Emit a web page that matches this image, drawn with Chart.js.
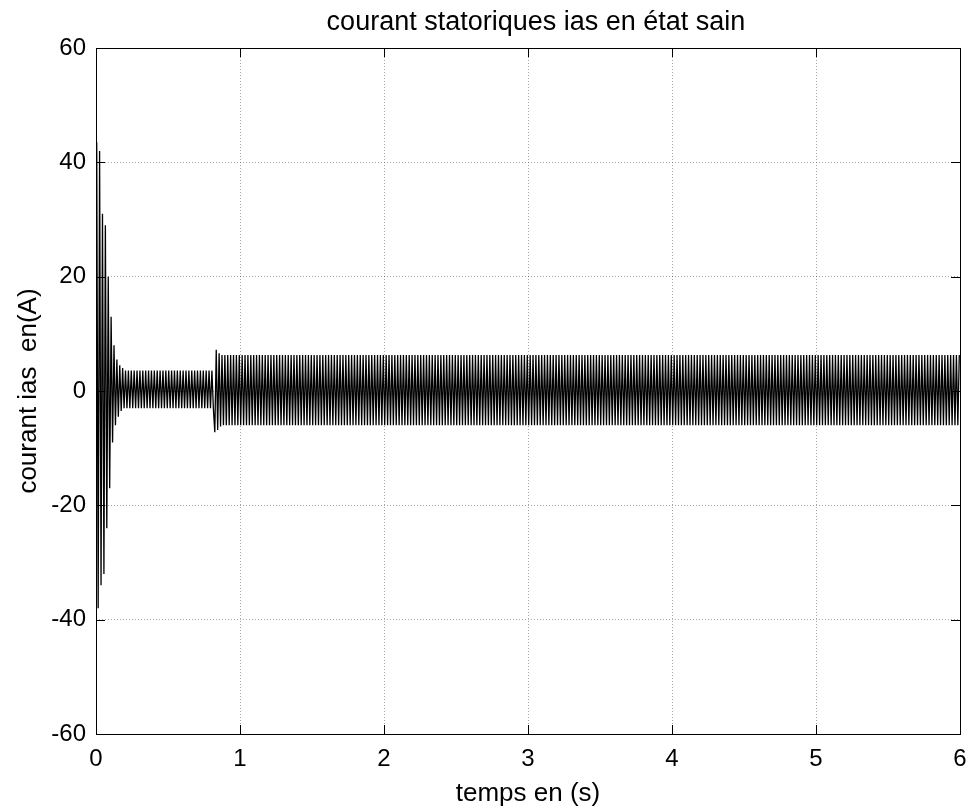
<!DOCTYPE html>
<html>
<head>
<meta charset="utf-8">
<script src="https://cdn.jsdelivr.net/npm/chart.js@4.4.0/dist/chart.umd.min.js"></script>
<style>
  html, body { margin: 0; padding: 0; background: #fff; }
  #wrap { width: 974px; height: 810px; position: relative; }
</style>
</head>
<body>
<div id="wrap"><canvas id="chart"></canvas></div>
<script>
// Peaks of ias (A), one per half period
const halfPeriod = 0.01;

// Start-up transient (s / A)
const startupTimes = [0, 0.005, 0.015, 0.025, 0.035, 0.045, 0.055, 0.065, 0.075, 0.085, 0.095,
                      0.105, 0.115, 0.125, 0.135, 0.145, 0.155, 0.165, 0.175, 0.185, 0.195];
const startupPeaks = [0, 43.5, -38, 42, -34, 31, -32, 29, -24, 20, -17,
                      13, -9, 8, -6, 5.5, -4.5, 4.5, -3.5, 4, -3];

// Load step around 0.82 s
const stepTimes = [0.825, 0.835, 0.845, 0.855, 0.865];
const stepPeaks = [-7.2, 7.2, -6.8, 6.6, -6.2];

// Steady blocks: start, end, upper peak, lower peak
const blockStart = [0.2, 0.87];
const blockEnd = [0.82, 6.0];
const blockHigh = [3.6, 6.3];
const blockLow = [-3.0, -6.0];

// Axis ticks
const xTicks = [0, 1, 2, 3, 4, 5, 6];
const yTicks = [-60, -40, -20, 0, 20, 40, 60];

const TITLE = 'courant statoriques ias en état sain';

// Build the point list
function blockPoints(i) {
  const pts = [];
  const n = Math.round((blockEnd[i] - blockStart[i]) / halfPeriod);
  for (let k = 0; k < n; k++) {
    const t = blockStart[i] + (k + 0.5) * halfPeriod;
    pts.push({ x: t, y: k % 2 === 0 ? blockHigh[i] : blockLow[i] });
  }
  return pts;
}

const points = [];
startupTimes.forEach((t, i) => points.push({ x: t, y: startupPeaks[i] }));
points.push(...blockPoints(0));
stepTimes.forEach((t, i) => points.push({ x: t, y: stepPeaks[i] }));
points.push(...blockPoints(1));

const FONT = 'Liberation Sans, Arial, Helvetica, sans-serif';
const TICK_LEN = 9;

// Black box with inward tick marks and title over the axes, MATLAB style
const framePlugin = {
  id: 'frame',
  afterDraw(chart) {
    const { ctx, chartArea: a, scales } = chart;
    ctx.save();
    ctx.strokeStyle = '#000';
    ctx.lineWidth = 1;
    ctx.beginPath();
    xTicks.forEach(v => {
      const px = Math.round(scales.x.getPixelForValue(v)) + 0.5;
      ctx.moveTo(px, a.bottom); ctx.lineTo(px, a.bottom - TICK_LEN);
      ctx.moveTo(px, a.top); ctx.lineTo(px, a.top + TICK_LEN);
    });
    yTicks.forEach(v => {
      const py = Math.round(scales.y.getPixelForValue(v)) + 0.5;
      ctx.moveTo(a.left, py); ctx.lineTo(a.left + TICK_LEN, py);
      ctx.moveTo(a.right, py); ctx.lineTo(a.right - TICK_LEN, py);
    });
    ctx.stroke();
    ctx.strokeRect(Math.round(a.left) + 0.5, Math.round(a.top) + 0.5,
                   Math.round(a.right - a.left), Math.round(a.bottom - a.top));

    ctx.fillStyle = '#000';
    ctx.font = '27px ' + FONT;
    ctx.textAlign = 'center';
    ctx.textBaseline = 'middle';
    ctx.fillText(TITLE, (a.left + a.right) / 2 + 8, 23);
    ctx.restore();
  }
};

const gridOpts = {
  color: 'rgba(0,0,0,0.35)',
  lineWidth: 1,
  drawTicks: false,
};

new Chart(document.getElementById('chart'), {
  type: 'line',
  data: {
    datasets: [{
      label: 'ias',
      data: points,
      borderColor: '#000',
      borderWidth: 1.3,
      pointRadius: 0,
      tension: 0,
      fill: false,
    }],
  },
  options: {
    responsive: true,
    maintainAspectRatio: false,
    animation: false,
    layout: { padding: { left: 0, right: 14, top: 48, bottom: 0 } },
    plugins: {
      legend: { display: false },
      tooltip: { enabled: false },
      title: { display: false },
    },
    scales: {
      x: {
        type: 'linear',
        min: 0,
        max: 6,
        afterBuildTicks: s => { s.ticks = xTicks.map(v => ({ value: v })); },
        afterFit: s => { s.height = 76; s.paddingLeft = 0; s.paddingRight = 0; },
        grid: gridOpts,
        border: { display: false, dash: [1, 2] },
        ticks: {
          color: '#000',
          padding: 11,
          maxRotation: 0,
          font: { family: FONT, size: 24 },
        },
        title: {
          display: true,
          text: 'temps en (s)',
          color: '#000',
          font: { family: FONT, size: 26 },
          padding: { top: 0, bottom: 1 },
        },
      },
      y: {
        min: -60,
        max: 60,
        afterBuildTicks: s => { s.ticks = yTicks.map(v => ({ value: v })); },
        afterFit: s => { s.width = 96; s.paddingTop = 0; s.paddingBottom = 0; },
        grid: gridOpts,
        border: { display: false, dash: [1, 2] },
        ticks: {
          color: '#000',
          padding: 10,
          font: { family: FONT, size: 24 },
        },
        title: {
          display: true,
          text: 'courant ias  en(A)',
          color: '#000',
          font: { family: FONT, size: 26 },
          padding: { top: 13, bottom: 0 },
        },
      },
    },
  },
  plugins: [framePlugin],
});
</script>
</body>
</html>
